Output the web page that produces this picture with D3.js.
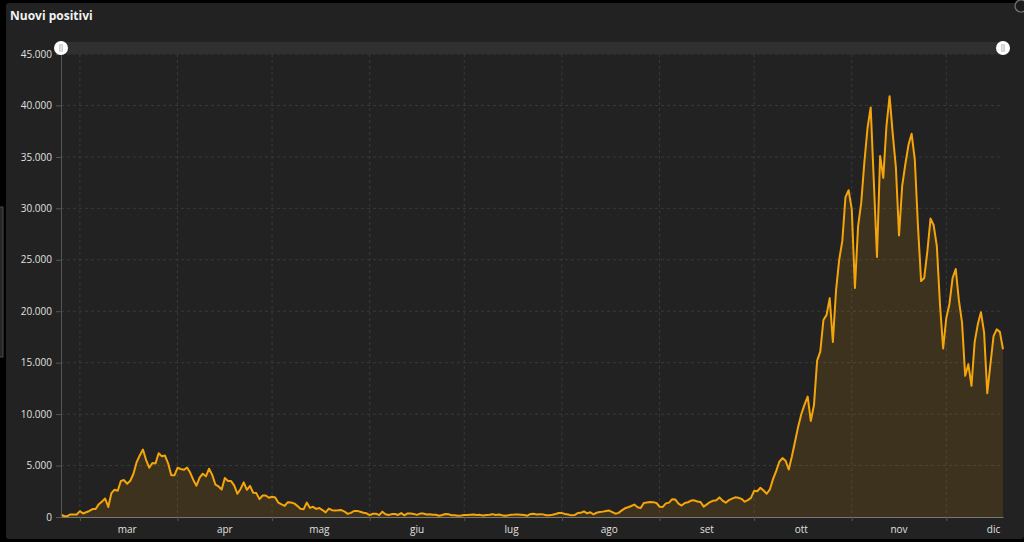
<!DOCTYPE html>
<html><head><meta charset="utf-8">
<script src="https://cdn.jsdelivr.net/npm/d3@7"></script>
<style>
html,body{margin:0;padding:0;background:#000;}
svg{display:block;font-family:"Open Sans","Noto Sans",sans-serif;}
</style></head>
<body>
<svg id="c" width="1024" height="542"></svg>
<script>
// ---- data ----
const startDate = "2020-02-24";
const endDate = "2020-12-19";
const chartTitle = "Nuovi positivi";
const monthLabels = ["mar","apr","mag","giu","lug","ago","set","ott","nov","dic"];
const yTicks = [0,5000,10000,15000,20000,25000,30000,35000,40000,45000];
const febValues = [221,93,78,250,238,240];
const marValues = [566,342,466,587,769,778,1247,1492,1797,977,2313,2651,2547,3497,3590,3233,3526,4207,5322,5986,6557,5560,4789,5249,5210,6203,5909,5974,5217,4050,4053];
const aprValues = [4782,4668,4585,4805,4316,3599,3039,3836,4204,3951,4694,4092,3153,2972,2667,3786,3493,3491,3047,2256,2729,3370,2646,3021,2357,2324,1739,2091,2086,1872];
const mayValues = [1965,1900,1389,1221,1075,1444,1401,1327,1083,802,744,1402,888,992,789,875,675,451,813,665,642,652,669,531,300,397,584,593,516,416,355];
const junValues = [178,318,321,177,518,270,197,280,283,202,379,163,346,338,301,210,329,333,251,262,224,218,122,190,296,259,175,174,126,142];
const julValues = [187,201,223,235,192,208,138,193,229,276,188,234,169,114,162,230,233,249,219,190,129,282,306,252,275,255,170,181,212,289,386];
const augValues = [379,295,238,159,190,384,402,552,347,463,259,412,481,523,574,629,479,320,403,642,845,947,1071,1210,953,878,1367,1411,1462,1444,1365];
const sepValues = [996,978,1326,1397,1733,1695,1297,1108,1370,1434,1597,1616,1501,1458,1008,1229,1452,1585,1638,1907,1587,1392,1640,1786,1912,1869,1766,1494,1648,1851];
const octValues = [2548,2499,2844,2578,2257,2677,3678,4458,5372,5724,5456,4619,5901,7332,8804,10010,10925,11705,9338,10874,15199,16079,19143,19644,21273,17012,21994,24991,26831,31084,31758];
const novValues = [29907,22253,28244,30550,34505,37809,39811,32616,25271,35098,32961,37978,40902,37255,33979,27354,32191,34283,36176,37242,34767,28337,22930,23232,25853,29003,28352,26323,20648,16377];
const decValues = [19350,20709,23225,24099,21052,18887,13720,14842,12756,16999,18727,19903,17938,12030,14844,17572,18236,17992,16308];

const values = [].concat(febValues,marValues,aprValues,mayValues,junValues,julValues,augValues,sepValues,octValues,novValues,decValues);
const parse = d3.utcParse("%Y-%m-%d");
const t0 = parse(startDate), t1 = parse(endDate);
const data = values.map((v,i)=>({date:d3.utcDay.offset(t0,i), value:v}));

// ---- layout ----
const svg = d3.select("#c");
const W = 1024, H = 542;
const L = 61, R = 1003, T = 54, B = 517;

svg.append("rect").attr("width",W).attr("height",H).attr("fill","#000");
svg.append("rect").attr("x",6).attr("y",3).attr("width",W-6).attr("height",536).attr("rx",3).attr("fill","#222");
svg.append("rect").attr("x",-1).attr("y",207).attr("width",4).attr("height",150).attr("fill","#262626").attr("stroke","#4a4a4a").attr("stroke-width",1);
svg.append("circle").attr("cx",1021).attr("cy",6).attr("r",6).attr("fill","#1c1c1c").attr("stroke","#777").attr("stroke-width",1.2);

svg.append("text").attr("x",10).attr("y",20).attr("fill","#f2f2f2").attr("font-size",12).attr("font-weight",700).text(chartTitle);

const x = d3.scaleUtc().domain([t0,t1]).range([L,R]);
const y = d3.scaleLinear().domain([0,45000]).range([B,T]);
const itLocale = d3.formatLocale({decimal:",",thousands:".",grouping:[3],currency:["€",""]});
const fmt = itLocale.format(",");

const monthStarts = d3.utcMonth.range(d3.utcMonth.ceil(t0), t1);

// grid
const g = svg.append("g");
g.selectAll("line.hg").data(yTicks.filter(d=>d>0)).join("line")
  .attr("x1",L).attr("x2",R).attr("y1",d=>y(d)).attr("y2",d=>y(d))
  .attr("stroke","#3a3a3a").attr("stroke-dasharray","3,3").attr("stroke-width",1);
g.selectAll("line.vg").data(monthStarts).join("line")
  .attr("x1",d=>x(d)).attr("x2",d=>x(d)).attr("y1",T).attr("y2",B)
  .attr("stroke","#3a3a3a").attr("stroke-dasharray","3,3").attr("stroke-width",1);

// area + line
const area = d3.area().x(d=>x(d.date)).y0(y(0)).y1(d=>y(d.value));
const line = d3.line().x(d=>x(d.date)).y(d=>y(d.value));
svg.append("path").datum(data).attr("d",area).attr("fill","#f0a00a").attr("fill-opacity",0.13);
svg.append("path").datum(data).attr("d",line).attr("fill","none").attr("stroke","#f5a50c").attr("stroke-width",2).attr("stroke-linejoin","round");

// y axis
const yAxis = svg.append("g").attr("transform",`translate(${L},0)`)
  .call(d3.axisLeft(y).tickValues(yTicks).tickFormat(fmt).tickSize(5).tickPadding(4));
yAxis.select(".domain").attr("stroke","#555");
yAxis.selectAll(".tick line").attr("stroke","#555");
yAxis.selectAll("text").attr("fill","#e0e0e0").attr("font-size",10).attr("font-family","'Open Sans','Noto Sans',sans-serif");

// x axis (ticks at month starts)
const xAxis = svg.append("g").attr("transform",`translate(0,${B})`)
  .call(d3.axisBottom(x).tickValues(monthStarts).tickFormat("").tickSize(4).tickSizeOuter(0));
xAxis.select(".domain").attr("stroke","#777");
xAxis.selectAll(".tick line").attr("stroke","#555");

// month labels at mid-month
const mids = monthStarts.map(m=>d3.utcDay.offset(m,15));
svg.append("g").selectAll("text").data(monthLabels).join("text")
  .attr("x",(d,i)=>x(mids[i])).attr("y",533).attr("text-anchor","middle")
  .attr("fill","#e0e0e0").attr("font-size",10).text(d=>d);

// scrollbar
svg.append("rect").attr("x",L).attr("y",42).attr("width",R-L).attr("height",12).attr("fill","#303030");
[L,R].forEach(cx=>{
  svg.append("circle").attr("cx",cx).attr("cy",48).attr("r",7).attr("fill","#fff");
  svg.append("rect").attr("x",cx-2).attr("y",44).attr("width",4).attr("height",8).attr("fill","#ccc").attr("rx",1);
  svg.append("line").attr("x1",cx).attr("x2",cx).attr("y1",44.5).attr("y2",51.5).attr("stroke","#fff").attr("stroke-width",0.8);
});
</script>
</body></html>
